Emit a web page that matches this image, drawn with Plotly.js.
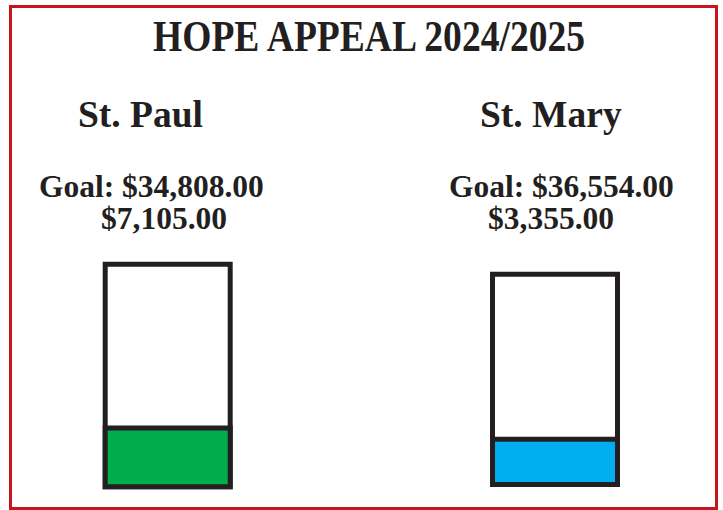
<!DOCTYPE html>
<html>
<head>
<meta charset="utf-8">
<script src="https://cdn.plot.ly/plotly-3.0.1.min.js"></script>
<style>
  html, body { margin: 0; padding: 0; background: #ffffff; }
  #chart { width: 723px; height: 510px; }
</style>
</head>
<body>
<div id="chart"></div>
<script>
// ---- data ----
const chartTitle = 'HOPE APPEAL 2024/2025';
const parishes = ['St. Paul', 'St. Mary'];
const goals = [34808, 36554];
const raised = [7105, 3355];
// fill level of each thermometer as drawn (percent of box height)
const fillPct = [26.4, 21.5];

// ---- styles ----
const INK = '#231f20';
const FILL_COLORS = ['#00ac4c', '#00aeef'];
const FONT = 'Liberation Serif, Times New Roman, serif';
const W = 723, H = 510;
const LW = 5;            // outline width of the boxes
const PAD = 4;           // px of room around each bar inside its subplot

function money(v) {
  return '$' + v.toLocaleString('en-US', {minimumFractionDigits: 2, maximumFractionDigits: 2});
}

// pixel geometry (line-centre rectangle of each box)
const boxes = [
  {x0: 105.2, x1: 230.2, top: 264.2, bottom: 486.8},
  {x0: 492.5, x1: 617.5, top: 274.2, bottom: 484.5}
];

const traces = [];
const layout = {
  width: W, height: H,
  margin: {l: 0, r: 0, t: 0, b: 0, pad: 0},
  paper_bgcolor: '#ffffff',
  plot_bgcolor: 'rgba(0,0,0,0)',
  showlegend: false,
  barmode: 'overlay',
  bargap: 0,
  shapes: [{
    type: 'rect', xref: 'paper', yref: 'paper',
    x0: 10.5 / W, x1: 716.5 / W, y0: 1 - 508.5 / H, y1: 1 - 6.5 / H,
    line: {color: '#c4161c', width: 3}, fillcolor: 'rgba(0,0,0,0)'
  }],
  annotations: []
};

parishes.forEach((name, i) => {
  const xa = i === 0 ? 'x' : 'x2';
  const ya = i === 0 ? 'y' : 'y2';
  const b = boxes[i];
  // outline (goal = 100%)
  traces.push({
    type: 'bar', x: [name], y: [100], width: [1], xaxis: xa, yaxis: ya,
    marker: {color: '#ffffff', line: {color: INK, width: LW}},
    cliponaxis: false, hoverinfo: 'skip'
  });
  // amount raised
  traces.push({
    type: 'bar', x: [name], y: [fillPct[i]], width: [1], xaxis: xa, yaxis: ya,
    marker: {color: FILL_COLORS[i], line: {color: INK, width: LW}},
    cliponaxis: false, hoverinfo: 'skip'
  });
  const wPx = b.x1 - b.x0, hPx = b.bottom - b.top;
  const padX = PAD / wPx;            // in category units (bar width = 1)
  const padY = PAD / hPx * 100;      // in percent units
  const axX = {
    domain: [(b.x0 - PAD) / W, (b.x1 + PAD) / W], type: 'category',
    range: [-0.5 - padX, 0.5 + padX],
    visible: false, fixedrange: true, anchor: ya
  };
  const axY = {
    domain: [1 - (b.bottom + PAD) / H, 1 - (b.top - PAD) / H],
    range: [-padY, 100 + padY],
    visible: false, fixedrange: true, anchor: xa
  };
  layout[i === 0 ? 'xaxis' : 'xaxis2'] = axX;
  layout[i === 0 ? 'yaxis' : 'yaxis2'] = axY;
});

function ann(text, xpx, ypx, size) {
  return {
    text: text, xref: 'paper', yref: 'paper',
    x: xpx / W, y: 1 - ypx / H, xanchor: 'center', yanchor: 'middle',
    showarrow: false, borderpad: 0,
    font: {family: FONT, size: size, color: INK, weight: 'bold'}
  };
}

layout.annotations.push(ann(chartTitle, 369, 36.5, 44));
const nameX = [140, 551], goalX = [151.5, 561.5], amtX = [164, 551];
parishes.forEach((name, i) => {
  layout.annotations.push(ann(name, nameX[i], 115, 37.5));
  layout.annotations.push(ann('Goal: ' + money(goals[i]), goalX[i], 186.7, 31.5));
  layout.annotations.push(ann(money(raised[i]), amtX[i], 218.3, 31.5));
});

Plotly.newPlot('chart', traces, layout, {displayModeBar: false, staticPlot: true}).then(() => {
  // the title in the reference is set in a condensed cut: compress it horizontally
  const t = document.querySelectorAll('#chart .annotation-text')[0];
  if (t) {
    const bb = t.getBBox();
    const s = 432 / bb.width;
    t.style.transformBox = 'fill-box';
    t.style.transformOrigin = 'center';
    t.style.transform = 'scaleX(' + s.toFixed(3) + ')';
  }
});
</script>
</body>
</html>
